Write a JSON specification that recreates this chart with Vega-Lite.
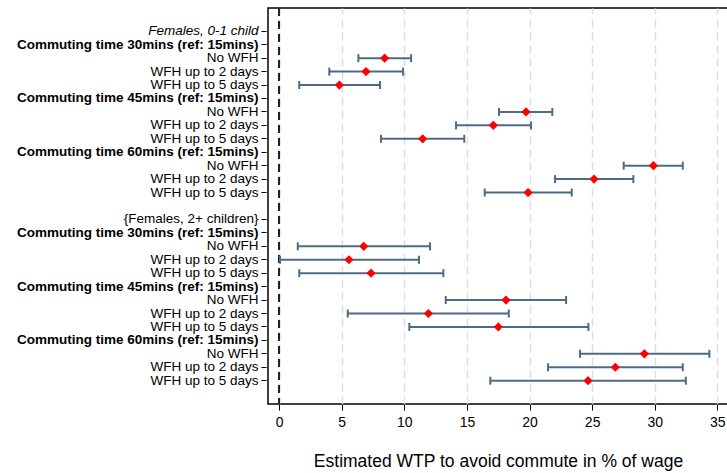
{
  "$schema": "https://vega.github.io/schema/vega-lite/v6.json",
  "autosize": {"type": "none"},
  "padding": {"left": 268, "top": 8, "right": 0, "bottom": 69},
  "width": 460,
  "height": 396,
  "background": "white",
  "config": {
    "font": "Liberation Sans",
    "view": {"stroke": "black", "strokeWidth": 1.5}
  },
  "data": {
    "values": [
      {"row": "n03|No WFH", "est": 8.43, "lo": 6.33, "hi": 10.54},
      {"row": "n04|WFH up to 2 days", "est": 6.94, "lo": 4.01, "hi": 9.90},
      {"row": "n05|WFH up to 5 days", "est": 4.81, "lo": 1.61, "hi": 8.06},
      {"row": "n07|No WFH", "est": 19.72, "lo": 17.56, "hi": 21.82},
      {"row": "n08|WFH up to 2 days", "est": 17.11, "lo": 14.13, "hi": 20.12},
      {"row": "n09|WFH up to 5 days", "est": 11.47, "lo": 8.14, "hi": 14.79},
      {"row": "n11|No WFH", "est": 29.89, "lo": 27.52, "hi": 32.24},
      {"row": "n12|WFH up to 2 days", "est": 25.15, "lo": 22.04, "hi": 28.29},
      {"row": "n13|WFH up to 5 days", "est": 19.88, "lo": 16.42, "hi": 23.37},
      {"row": "n17|No WFH", "est": 6.76, "lo": 1.49, "hi": 12.05},
      {"row": "n18|WFH up to 2 days", "est": 5.58, "lo": 0.07, "hi": 11.17},
      {"row": "n19|WFH up to 5 days", "est": 7.34, "lo": 1.61, "hi": 13.12},
      {"row": "n21|No WFH", "est": 18.12, "lo": 13.31, "hi": 22.92},
      {"row": "n22|WFH up to 2 days", "est": 11.92, "lo": 5.48, "hi": 18.34},
      {"row": "n23|WFH up to 5 days", "est": 17.51, "lo": 10.40, "hi": 24.70},
      {"row": "n25|No WFH", "est": 29.17, "lo": 24.03, "hi": 34.36},
      {"row": "n26|WFH up to 2 days", "est": 26.85, "lo": 21.48, "hi": 32.24},
      {"row": "n27|WFH up to 5 days", "est": 24.67, "lo": 16.87, "hi": 32.48}
    ]
  },
  "encoding": {
    "y": {
      "field": "row",
      "type": "nominal",
      "scale": {
        "type": "band",
        "paddingInner": 0,
        "paddingOuter": 0.234,
        "domain": [
          "e00|",
          "h01|Females, 0-1 child",
          "b02|Commuting time 30mins (ref: 15mins)",
          "n03|No WFH",
          "n04|WFH up to 2 days",
          "n05|WFH up to 5 days",
          "b06|Commuting time 45mins (ref: 15mins)",
          "n07|No WFH",
          "n08|WFH up to 2 days",
          "n09|WFH up to 5 days",
          "b10|Commuting time 60mins (ref: 15mins)",
          "n11|No WFH",
          "n12|WFH up to 2 days",
          "n13|WFH up to 5 days",
          "e14|",
          "r15|{Females, 2+ children}",
          "b16|Commuting time 30mins (ref: 15mins)",
          "n17|No WFH",
          "n18|WFH up to 2 days",
          "n19|WFH up to 5 days",
          "b20|Commuting time 45mins (ref: 15mins)",
          "n21|No WFH",
          "n22|WFH up to 2 days",
          "n23|WFH up to 5 days",
          "b24|Commuting time 60mins (ref: 15mins)",
          "n25|No WFH",
          "n26|WFH up to 2 days",
          "n27|WFH up to 5 days",
          "e28|"
        ]
      },
      "axis": {
        "title": null,
        "domain": false,
        "grid": false,
        "labelExpr": "split(datum.value, '|')[1]",
        "labelFontSize": 13.5,
        "labelLimit": 0,
        "labelColor": "black",
        "labelPadding": 3,
        "labelFontWeight": {"condition": {"test": "substring(datum.value, 0, 1) == 'b'", "value": "bold"}, "value": "normal"},
        "labelFontStyle": {"condition": {"test": "substring(datum.value, 0, 1) == 'h'", "value": "italic"}, "value": "normal"},
        "tickOpacity": {"condition": {"test": "substring(datum.value, 0, 1) == 'e'", "value": 0}, "value": 1},
        "tickColor": "black",
        "tickSize": 5,
        "tickWidth": 1,
        "offset": 2
      }
    }
  },
  "layer": [
    {
      "mark": {"type": "rule", "stroke": "#222222", "strokeWidth": 1.8, "strokeDash": [8, 5]},
      "encoding": {"x": {"datum": 0}, "y": null}
    },
    {
      "mark": {"type": "rule", "stroke": "#4e6b85", "strokeWidth": 2},
      "encoding": {
        "x": {
          "field": "lo",
          "type": "quantitative",
          "scale": {"domain": [-0.887, 35.85], "nice": false, "zero": false},
          "axis": {
            "title": "Estimated WTP to avoid commute in % of wage",
            "values": [0, 5, 10, 15, 20, 25, 30, 35],
            "domain": false,
            "grid": true,
            "gridColor": "#dddddd",
            "gridDash": [8, 5],
            "gridWidth": 1.5,
            "tickColor": "black",
            "tickSize": 6,
            "labelFontSize": 14,
            "labelColor": "black",
            "labelPadding": 5,
            "titleFontSize": 17.5,
            "titleFontWeight": "normal",
            "titleColor": "black",
            "titlePadding": 23
          }
        },
        "x2": {"field": "hi"}
      }
    },
    {
      "mark": {"type": "tick", "color": "#4e6b85", "size": 8, "thickness": 2, "opacity": 1},
      "encoding": {"x": {"field": "lo", "type": "quantitative"}}
    },
    {
      "mark": {"type": "tick", "color": "#4e6b85", "size": 8, "thickness": 2, "opacity": 1},
      "encoding": {"x": {"field": "hi", "type": "quantitative"}}
    },
    {
      "mark": {"type": "point", "shape": "diamond", "filled": true, "color": "#ff0000", "size": 85, "opacity": 1, "strokeWidth": 0},
      "encoding": {"x": {"field": "est", "type": "quantitative"}}
    }
  ]
}
